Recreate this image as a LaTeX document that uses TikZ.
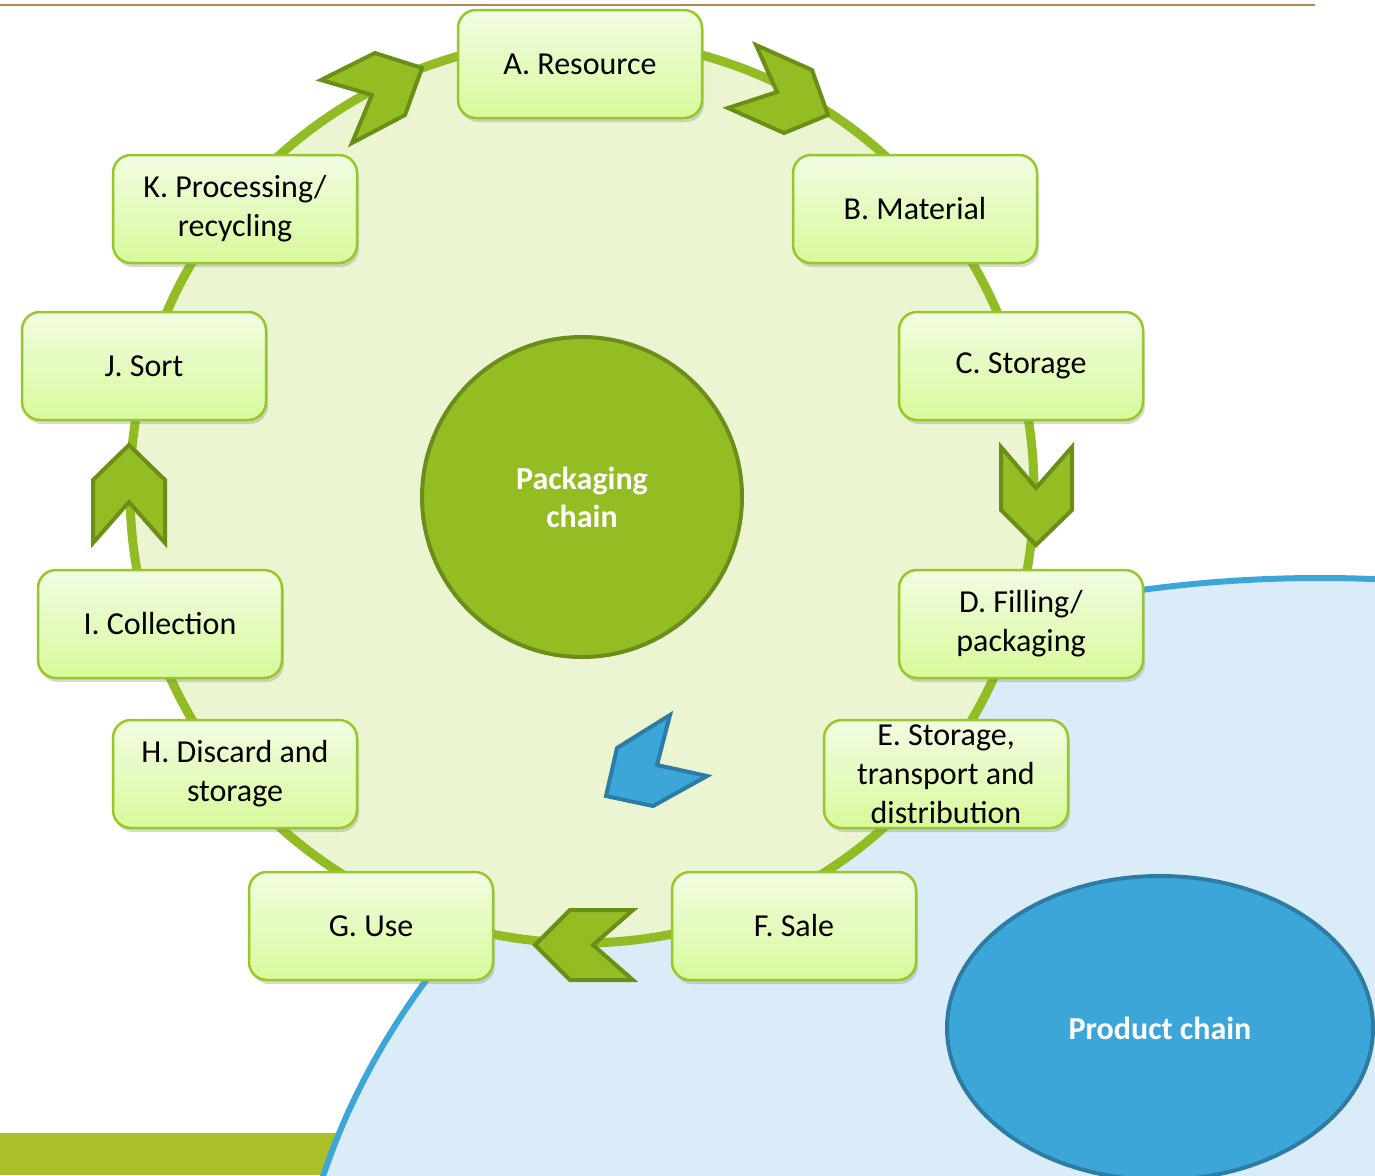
\documentclass[tikz,border=0pt]{standalone}
\usepackage{fontspec}
\setmainfont{Carlito}
\usetikzlibrary{shadows,shapes.geometric}

\definecolor{ringfill}{HTML}{EBF5D1}
\definecolor{ringline}{HTML}{92BC23}
\definecolor{hubfill}{HTML}{93BD23}
\definecolor{hubline}{HTML}{6B8E1B}
\definecolor{chevfill}{HTML}{93BD23}
\definecolor{chevline}{HTML}{6B8E17}
\definecolor{boxline}{HTML}{96C829}
\definecolor{boxtop}{HTML}{F2FCE3}
\definecolor{boxbot}{HTML}{D8FA9A}
\definecolor{seafill}{HTML}{D9ECF8}
\definecolor{sealine}{HTML}{3DA6D9}
\definecolor{prodfill}{HTML}{3DA6D9}
\definecolor{prodline}{HTML}{2D7CA5}
\definecolor{barcol}{HTML}{ABBF28}
\definecolor{rulecol}{HTML}{B8884F}

\tikzset{
  stage/.style={draw=boxline, line width=2.5pt, rounded corners=18pt,
    top color=boxtop, bottom color=boxbot,
    minimum width=244pt, minimum height=108pt, inner sep=0pt,
    align=center, font=\fontsize{32}{39}\selectfont,
    drop shadow={opacity=0.3, shadow xshift=2pt, shadow yshift=-4pt}},
  chev/.style={fill=chevfill, draw=chevline, line width=4pt, line join=miter},
  bluechev/.style={fill=prodfill, draw=prodline, line width=4pt, line join=miter},
  hub/.style={text=white, align=center, font=\bfseries\fontsize{32}{38}\selectfont},
}

\begin{document}
\begin{tikzpicture}[x=1pt, y=-1pt]

  % Frame
  \useasboundingbox (0,0) rectangle (1375,1175);
  \clip (0,0) rectangle (1375,1175);
  \draw[rulecol, line width=2pt] (0,5) -- (1315,5);
  \fill[barcol] (0,1133) rectangle (420,1175);

  % Product chain background
  \draw[fill=seafill, draw=sealine, line width=6pt] (1320,1378) ellipse [x radius=1030, y radius=800];

  % Packaging chain ring
  \draw[fill=ringfill, draw=ringline, line width=9pt] (582,491) circle [radius=452];
  \node[circle, fill=hubfill, draw=hubline, line width=4pt, minimum size=320pt, hub]
    (pack) at (582,497) {Packaging\\chain};

  \node[ellipse, fill=prodfill, draw=prodline, line width=4pt,
    minimum width=426pt, minimum height=304pt, hub] (prod) at (1160,1028) {Product chain};

  % Chevrons
  \draw[chev] (321,80) -- (375,53) -- (422,68) -- (405,115) -- (352,143) -- (372,95) -- cycle;
  \draw[chev] (756,45) -- (812,70) -- (828,115) -- (784,133) -- (728,108) -- (777,92) -- cycle;
  \draw[chev] (1001,447) -- (1036,488) -- (1072,447) -- (1072,510) -- (1036,545) -- (1001,510) -- cycle;
  \draw[chev] (570,910) -- (633,910) -- (593,945) -- (633,980) -- (570,980) -- (535,945) -- cycle;
  \draw[chev] (129,445) -- (165,480) -- (165,543) -- (129,502) -- (93,543) -- (93,480) -- cycle;
  \draw[bluechev] (670,715) -- (657,765) -- (707,776) -- (653,806) -- (606,796) -- (617,748) -- cycle;

  % Stages
  \node[stage] (res)  at (580,64)  {A. Resource};
  \node[stage] (mat)  at (915,209) {B. Material};
  \node[stage] (sto)  at (1021,366) {C. Storage};
  \node[stage] (fill) at (1021,624) {D. Filling/\\packaging};
  \node[stage] (dist) at (946,774) {E. Storage,\\transport and\\distribution};
  \node[stage] (sale) at (794,926) {F. Sale};
  \node[stage] (use)  at (371,926) {G. Use};
  \node[stage] (disc) at (235,774) {H. Discard and\\storage};
  \node[stage] (coll) at (160,624) {I. Collection};
  \node[stage] (sort) at (144,366) {J. Sort};
  \node[stage] (proc) at (235,209) {K. Processing/\\recycling};

\end{tikzpicture}
\end{document}
